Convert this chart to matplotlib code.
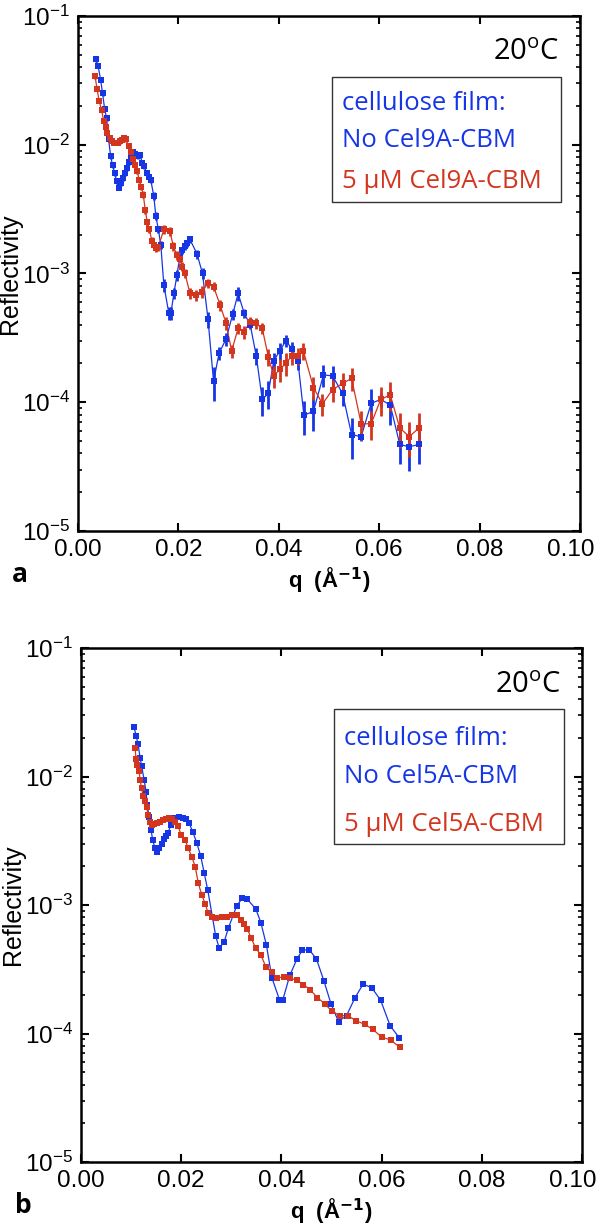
import numpy as np
import matplotlib
matplotlib.use("Agg")
import matplotlib.pyplot as plt
from matplotlib.ticker import FixedLocator, LogLocator, NullFormatter, FuncFormatter
from matplotlib.patches import Rectangle
from matplotlib.transforms import ScaledTranslation

plt.rcParams["font.family"] = ["Liberation Sans", "DejaVu Sans"]
plt.rcParams["mathtext.default"] = "regular"

BLUE = "#1636e6"
RED = "#d3351f"

# ---- panel a: Cel9A-CBM ----
a_blue_q = [0.0035, 0.0040, 0.0045, 0.0049, 0.0053, 0.0057, 0.0061, 0.0065, 0.0069, 0.0073, 0.0077, 0.0081,
            0.0085, 0.0089, 0.0093, 0.0097, 0.0101, 0.0105, 0.0110, 0.0114, 0.0119, 0.0124, 0.0128, 0.0132, 0.0137, 0.0141, 0.0145,
            0.0151, 0.0155, 0.0160, 0.0165,
            0.0171, 0.0181, 0.0185, 0.0191, 0.0197,
            0.0203, 0.0208, 0.0213, 0.0218, 0.0223,
            0.0237, 0.0248, 0.0259, 0.0270, 0.0281, 0.0295, 0.0308, 0.0319, 0.0331, 0.0343,
            0.0355, 0.0367, 0.0379, 0.0390, 0.0402, 0.0414, 0.0426, 0.0438, 0.0450, 0.0469,
            0.0489, 0.0507, 0.0527, 0.0545, 0.0564, 0.0584, 0.0603, 0.0622, 0.0641, 0.0660, 0.0679]
a_blue_r = [0.046, 0.041, 0.032, 0.025, 0.019, 0.016, 0.011, 0.0081, 0.0069, 0.0060, 0.0052, 0.0046,
            0.0050, 0.0055, 0.0060, 0.0066, 0.0073, 0.0081, 0.0088, 0.0085, 0.0081, 0.0083, 0.0072, 0.0068, 0.0060, 0.0056, 0.0053,
            0.0040, 0.0028, 0.0022, 0.00166,
            0.00081, 0.00049, 0.00049, 0.00070, 0.00097,
            0.00135, 0.00152, 0.00162, 0.00171, 0.00184,
            0.00142, 0.00100, 0.00044, 0.000145, 0.00024, 0.00031, 0.00048, 0.00070, 0.00049, 0.00040,
            0.00023, 0.000105, 0.000117, 0.00021, 0.00025, 0.00030, 0.00026, 0.00021, 0.000079, 0.000085,
            0.000163, 0.00016, 0.000117, 0.000056, 0.000054, 0.000098, 0.000105, 0.000095, 0.000047, 0.000045, 0.000047]
a_blue_err = [0.04, 0.04, 0.04, 0.04, 0.04, 0.04, 0.04, 0.04, 0.04, 0.04, 0.04, 0.04,
              0.05, 0.05, 0.05, 0.05, 0.05, 0.05, 0.05, 0.05, 0.05, 0.05, 0.05, 0.05, 0.05, 0.05, 0.05,
              0.07, 0.07, 0.07, 0.07,
              0.12, 0.12, 0.12, 0.10, 0.10,
              0.06, 0.06, 0.06, 0.06, 0.06,
              0.08, 0.10, 0.15, 0.30, 0.12, 0.12, 0.10, 0.12, 0.08, 0.08,
              0.15, 0.25, 0.25, 0.15, 0.15, 0.10, 0.12, 0.15, 0.30, 0.30,
              0.20, 0.20, 0.20, 0.35, 0.08, 0.30, 0.12, 0.30, 0.30, 0.35, 0.30]

a_red_q = [0.0034, 0.0038, 0.0042, 0.0047, 0.0051, 0.0055, 0.0058, 0.0063, 0.0067, 0.0071, 0.0075, 0.0079,
           0.0083, 0.0087, 0.0091, 0.0095, 0.0101, 0.0105, 0.0110, 0.0114, 0.0118, 0.0122, 0.0126, 0.0130,
           0.0134, 0.0138, 0.0142, 0.0147, 0.0152, 0.0156, 0.0160,
           0.0171, 0.0183, 0.0190, 0.0197, 0.0203, 0.0208, 0.0213,
           0.0223, 0.0235, 0.0247, 0.0259, 0.0270, 0.0283, 0.0295, 0.0306, 0.0319, 0.0330,
           0.0343, 0.0354, 0.0367, 0.0379, 0.0390, 0.0402, 0.0414, 0.0426, 0.0438, 0.0449,
           0.0469, 0.0487, 0.0507, 0.0527, 0.0545, 0.0564, 0.0584, 0.0603, 0.0622, 0.0641, 0.0660, 0.0679]
a_red_r = [0.034, 0.027, 0.022, 0.0186, 0.0154, 0.0138, 0.0123, 0.0112, 0.0106, 0.0104, 0.0104, 0.0104,
           0.0106, 0.0109, 0.0112, 0.0110, 0.0097, 0.0088, 0.0078, 0.0070, 0.0062, 0.0053, 0.0047, 0.0041,
           0.0031, 0.0025, 0.0022, 0.0018, 0.00166, 0.00157, 0.0016,
           0.0022, 0.00213, 0.00162, 0.00139, 0.0013, 0.00113, 0.0010,
           0.00070, 0.00068, 0.00072, 0.00084, 0.00079, 0.00057, 0.00041, 0.00025, 0.000375, 0.00035,
           0.00042, 0.00041, 0.000375, 0.000226, 0.00016, 0.00018, 0.00020, 0.00023, 0.00023, 0.00025,
           0.00013, 0.000097, 0.000125, 0.00014, 0.000153, 0.000068, 0.000068, 0.000105, 0.000114, 0.000063, 0.000054, 0.000063]
a_red_err = [0.04, 0.04, 0.04, 0.04, 0.04, 0.04, 0.04, 0.04, 0.04, 0.04, 0.04, 0.04,
             0.04, 0.04, 0.04, 0.04, 0.05, 0.05, 0.05, 0.05, 0.05, 0.05, 0.05, 0.06,
             0.06, 0.06, 0.06, 0.06, 0.06, 0.06, 0.06,
             0.08, 0.08, 0.08, 0.08, 0.08, 0.08, 0.08,
             0.10, 0.10, 0.10, 0.08, 0.08, 0.10, 0.12, 0.12, 0.10, 0.12,
             0.10, 0.10, 0.10, 0.15, 0.20, 0.20, 0.20, 0.15, 0.15, 0.15,
             0.20, 0.20, 0.20, 0.20, 0.20, 0.25, 0.25, 0.25, 0.25, 0.30, 0.30, 0.30]

# ---- panel b: Cel5A-CBM ----
b_blue_q = [0.0106, 0.0110, 0.0114, 0.0118, 0.0121, 0.0126, 0.0130, 0.0132, 0.0136, 0.0140, 0.0143, 0.0148,
            0.0152, 0.0156, 0.0161, 0.0166, 0.0170, 0.0174, 0.0179, 0.0188, 0.0196, 0.0203, 0.0210, 0.0216,
            0.0223, 0.0231, 0.0239, 0.0246, 0.0253, 0.0269, 0.0276, 0.0286, 0.0294, 0.0311, 0.0322, 0.0332,
            0.0349, 0.0359, 0.0370, 0.0381, 0.0396, 0.0403, 0.0417, 0.0431, 0.0442, 0.0456, 0.0470, 0.0485,
            0.0499, 0.0514, 0.0530, 0.0547, 0.0563, 0.0580, 0.0598, 0.0617, 0.0635]
b_blue_r = [0.0242, 0.0207, 0.0178, 0.0139, 0.0121, 0.0094, 0.0076, 0.0060, 0.00487, 0.00384, 0.0032, 0.00276,
            0.0026, 0.00276, 0.0030, 0.00324, 0.00344, 0.00365, 0.0042, 0.00473, 0.00487, 0.0048, 0.00465, 0.00432,
            0.00372, 0.00305, 0.0024, 0.00177, 0.00131, 0.00057, 0.00046, 0.00052, 0.00066, 0.00099, 0.00113, 0.00111,
            0.00093, 0.00073, 0.00049, 0.000272, 0.000184, 0.000184, 0.000285, 0.00038, 0.000447, 0.000447, 0.00038, 0.000256,
            0.00017, 0.000124, 0.000138, 0.00019, 0.000242, 0.000228, 0.000182, 0.000115, 0.000093]

b_red_q = [0.0108, 0.0110, 0.0112, 0.0116, 0.0118, 0.0121, 0.0124, 0.0128, 0.0131, 0.0134, 0.0138, 0.0142,
           0.0146, 0.0151, 0.0158, 0.0164, 0.0170, 0.0176, 0.0181, 0.0188, 0.0194, 0.0200, 0.0208, 0.0214,
           0.0221, 0.0228, 0.0234, 0.0241, 0.0248, 0.0254, 0.0261, 0.0269, 0.0281, 0.0291, 0.0301, 0.0311,
           0.0319, 0.0325, 0.0332, 0.0340, 0.0349, 0.0359, 0.0369, 0.0381, 0.0391, 0.0406, 0.0417, 0.0431,
           0.0444, 0.0457, 0.0472, 0.0487, 0.0500, 0.0516, 0.0532, 0.0549, 0.0566, 0.0582, 0.0600, 0.0618, 0.0637]
b_red_r = [0.0166, 0.0136, 0.0123, 0.0111, 0.0094, 0.0081, 0.0070, 0.0064, 0.0058, 0.0050, 0.00445, 0.0042,
           0.00425, 0.00436, 0.00445, 0.00455, 0.00465, 0.0048, 0.0047, 0.00445, 0.0041, 0.0035, 0.0032, 0.00276,
           0.00238, 0.00199, 0.00149, 0.0012, 0.00102, 0.00086, 0.00081, 0.00079, 0.0008, 0.00081, 0.00084, 0.00083,
           0.00076, 0.00071, 0.00065, 0.00055, 0.00046, 0.00041, 0.00033, 0.00030, 0.000272, 0.000275, 0.00027, 0.00026,
           0.00024, 0.00022, 0.00019, 0.00017, 0.00015, 0.000138, 0.000138, 0.000126, 0.000118, 0.000108, 0.000094, 0.000089, 0.000078]
b_err = 0.05

xticks = [0.00, 0.02, 0.04, 0.06, 0.08, 0.10]
yticks = [1e-5, 1e-4, 1e-3, 1e-2, 1e-1]

TEXT_FONT = ["Open Sans", "DejaVu Sans"]

fig = plt.figure(figsize=(6, 12.29), dpi=100)
ax_a = fig.add_axes([0.13, 0.568, 0.8367, 0.419])
ax_b = fig.add_axes([0.135, 0.0545, 0.835, 0.4182])


def draw_series(ax, q, r, err, color, ms, cap, elw):
    q = np.array(q)
    r = np.array(r)
    e = np.array(err) * r
    ax.plot(q, r, "-", color=color, lw=0.9, zorder=2)
    ax.errorbar(q, r, yerr=e, fmt="s", color=color, ms=ms, mew=0, capsize=cap,
                elinewidth=elw, capthick=elw, zorder=3)


def style(ax, label, leg_lines, leg_box, temp_y):
    ax.set_yscale("log")
    ax.set_xlim(0, 0.1)
    ax.set_ylim(1e-5, 1e-1)
    ax.xaxis.set_major_locator(FixedLocator(xticks))
    ax.xaxis.set_major_formatter(FuncFormatter(lambda v, p: "%.2f" % v))
    ax.yaxis.set_major_locator(FixedLocator(yticks))
    ax.yaxis.set_major_formatter(FuncFormatter(lambda v, p: r"$10^{%d}$" % round(np.log10(v))))
    ax.yaxis.set_minor_locator(LogLocator(base=10, subs=np.arange(2, 10)))
    ax.yaxis.set_minor_formatter(NullFormatter())
    ax.tick_params(which="major", direction="in", length=6, width=1.5, top=True, right=True,
                   labelsize=17.5, pad=6)
    ax.tick_params(which="minor", direction="in", length=3, width=1.2, right=True)
    for s in ax.spines.values():
        s.set_linewidth(1.8)
    # last x label sits a bit left of its tick, as in the original
    fig.canvas.draw()
    last = ax.get_xticklabels()[-1]
    last.set_transform(last.get_transform() + ScaledTranslation(-9 / 100, 0, fig.dpi_scale_trans))
    ax.set_ylabel("Reflectivity", fontsize=18, labelpad=0)
    ax.set_xlabel(r"q  (Å$^{\mathbf{-1}}$)", fontsize=16, fontweight="bold", labelpad=3)
    ax.text(-0.132, -0.1, label, transform=ax.transAxes, fontsize=19, fontweight="bold",
            family=TEXT_FONT, ha="left", va="baseline")
    ax.text(0.958, temp_y, r"20$^{o}$C", transform=ax.transAxes, fontsize=21,
            family=TEXT_FONT, ha="right", va="baseline")
    x0, y0, x1, y1 = leg_box
    ax.add_patch(Rectangle((x0, y0), x1 - x0, y1 - y0, transform=ax.transAxes,
                           fill=False, ec="#333333", lw=1.0, zorder=4))
    for txt, y, c in leg_lines:
        ax.text(x0 + 0.02, y, txt, transform=ax.transAxes, color=c, fontsize=18.5,
                family=TEXT_FONT, ha="left", va="baseline")


draw_series(ax_a, a_blue_q, a_blue_r, a_blue_err, BLUE, 4, 2.3, 2.0)
draw_series(ax_a, a_red_q, a_red_r, a_red_err, RED, 4, 2.3, 2.0)
style(ax_a, "a",
      [("cellulose film:", 0.8175, BLUE), ("No Cel9A-CBM", 0.7456, BLUE), ("5 µM Cel9A-CBM", 0.666, RED)],
      (0.506, 0.639, 0.962, 0.882), 0.9146)

draw_series(ax_b, b_blue_q, b_blue_r, [b_err] * len(b_blue_q), BLUE, 4.2, 3.2, 1.5)
draw_series(ax_b, b_red_q, b_red_r, [b_err] * len(b_red_q), RED, 4.2, 3.2, 1.5)
style(ax_b, "b",
      [("cellulose film:", 0.811, BLUE), ("No Cel5A-CBM", 0.737, BLUE), ("5 µM Cel5A-CBM", 0.644, RED)],
      (0.505, 0.619, 0.964, 0.881), 0.912)

fig.savefig("out.png", dpi=100)
